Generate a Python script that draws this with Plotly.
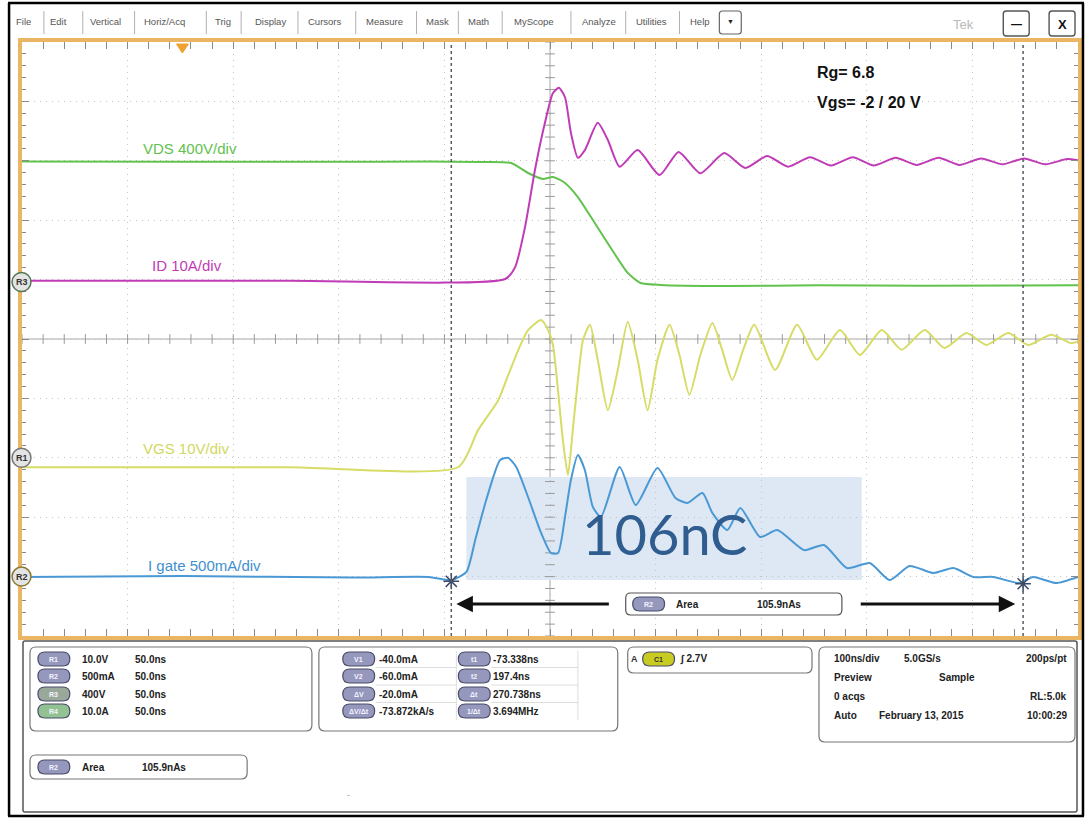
import plotly.graph_objects as go
import numpy as np

# ---------------- data ----------------
# time axis: 50 ns/div, 10 divisions
T_LEFT, T_RIGHT = -276.6, 223.4
T_CENTER = -26.6
NS_PER_DIV = 50

# VDS (V), 400 V/div
t_vds = [-276.6, -200, -130, -84.1, -60, -45.0, -37.0, -30.0, -25.2, -19.5, -13.4,
         -5.4, 2.2, 10.2, 16.3, 25.8, 57.4, 100, 150, 223.4]
vds = [812, 810, 809, 811, 808, 801, 734, 694, 707, 667, 572,
       397, 229, 61, -7, -20, -27, -22, -25, -22]

# ID (A), 10 A/div
t_id = [-276.6, -150, -47.8, -43.1, -38.4, -33.7, -29.0, -25.2, -22.4, -19.5, -16.7,
        -13.4, -10.1, -4.0, 0.8, 6.4, 14.9, 25.3, 34.3, 44.6, 55.9, 65.9, 76.2,
        86.1, 96.5, 106.4, 116.8, 126.7, 137.1, 147.0, 157.4, 167.3, 177.6, 187.6,
        197.9, 207.8, 218.2, 223.4]
i_d = [0.2, 0.2, 0.5, 2.5, 9.3, 18.9, 26.8, 31.8, 32.7, 31.1, 25.1,
       20.9, 22.2, 26.8, 23.9, 19.4, 22.2, 18.0, 21.9, 18.3, 21.7, 19.2, 21.2,
       19.4, 21.0, 19.6, 21.0, 19.6, 20.9, 19.7, 20.9, 19.7, 20.8, 19.8,
       20.8, 19.8, 20.7, 20.5]

# VGS (V), 10 V/div
t_vgs = [-276.6, -150, -70.0, -60.6, -51.1, -46.4, -41.7, -37.0, -30.8, -27.5, -25.2,
         -20.5, -18.1, -15.8, -13.4, -11.0, -7.7, -4.0, 0.8, 5.5, 10.2, 14.9, 19.6,
         24.3, 30.0, 34.7, 39.4, 44.6, 50.3, 54.9, 59.7, 64.9, 70.1, 80.0, 90.4,
         99.8, 110.7, 120.1, 130.5, 139.9, 150.8, 160.2, 170.6, 180.0, 190.4,
         199.8, 210.7, 220.1, 223.4]
vgs = [-1.6, -1.6, -1.55, 4.7, 9.7, 13.9, 18.1, 21.5, 23.2, 21.5, 19.0,
       3.0, -2.9, 4.7, 13.1, 19.8, 22.4, 16.5, 8.0, 14.8, 22.9, 16.5, 8.0,
       16.5, 22.4, 17.3, 10.6, 17.3, 22.7, 18.2, 13.1, 18.2, 22.4, 14.8, 22.4,
       16.5, 21.5, 17.3, 21.5, 18.2, 21.5, 18.5, 21.0, 19.0, 21.0,
       19.0, 20.7, 19.3, 19.6]

# I gate (mA), 500 mA/div
t_ig = [-276.6, -200, -120, -84.1, -73.3, -66.2, -62.0, -56.8, -50.2, -46.4, -42.6,
        -37.0, -30.8, -26.1, -22.8, -19.5, -16.7, -13.4, -10.1, -6.3, -2.5, 6.4,
        14.0, 24.3, 32.8, 38.5, 45.6, 50.3, 57.4, 63.5, 72.9, 81.0, 93.7, 103.1,
        114.0, 124.8, 134.2, 143.7, 155.0, 164.4, 173.9, 183.3, 195.6, 202.2,
        213.0, 223.4]
igate = [-3, 5, -8, -3, -30, 39, 308, 645, 982, 999, 923,
         670, 367, 198, 198, 502, 813, 1023, 897, 586, 502, 923,
         603, 914, 662, 620, 704, 535, 392, 577, 333, 392, 223, 266,
         72, 114, -29, 89, 30, 72, -3, -3, -54, -3,
         -54, -3]

# cursors
t1, t2 = -73.338, 197.4
v1, v2 = -40.0, -60.0

# channel scales (per div) and ground positions (in divisions from centre)
SC_VDS, GND_VDS = 400, 0.96
SC_ID, GND_ID = 10, 0.96
SC_VGS, GND_VGS = 10, -2.0
SC_IG, GND_IG = 500, -4.0

# ---------------- layout helpers ----------------
W, H = 1091, 818
L, R, T, B = 22, 1082, 42, 636


def px(x):
    return (x - L) / (R - L)


def py(y):
    return (B - y) / (B - T)


def rng(scale, gnd):
    return [(-5 - gnd) * scale, (5 - gnd) * scale]


shapes = []
annots = []


def rrect(x0, y0, x1, y1, r, line_color, fill, width=1):
    p = (f"M {px(x0 + r)},{py(y0)} L {px(x1 - r)},{py(y0)} Q {px(x1)},{py(y0)} {px(x1)},{py(y0 + r)} "
         f"L {px(x1)},{py(y1 - r)} Q {px(x1)},{py(y1)} {px(x1 - r)},{py(y1)} "
         f"L {px(x0 + r)},{py(y1)} Q {px(x0)},{py(y1)} {px(x0)},{py(y1 - r)} "
         f"L {px(x0)},{py(y0 + r)} Q {px(x0)},{py(y0)} {px(x0 + r)},{py(y0)} Z")
    shapes.append(dict(type='path', path=p, xref='paper', yref='paper',
                       line=dict(color=line_color, width=width), fillcolor=fill, layer='above'))


def line(x0, y0, x1, y1, color, width=1, dash='solid'):
    shapes.append(dict(type='line', xref='paper', yref='paper', x0=px(x0), y0=py(y0),
                       x1=px(x1), y1=py(y1), line=dict(color=color, width=width, dash=dash),
                       layer='above'))


def text(x, y, s, size=10, color='#222', anchor='left', bold=False, family='Liberation Sans'):
    if bold:
        s = f"<b>{s}</b>"
    annots.append(dict(x=px(x), y=py(y), xref='paper', yref='paper', text=s, showarrow=False,
                       xanchor=anchor, yanchor='middle',
                       font=dict(size=size, color=color, family=family)))


def pill(cx, cy, label, fill='#9597bd', tcolor='#f4f4ff', w=32, h=14):
    rrect(cx - w / 2, cy - h / 2, cx + w / 2, cy + h / 2, h / 2, '#4a4c6a', fill, 1.2)
    text(cx, cy, label, size=7, color=tcolor, anchor='center', bold=True)


fig = go.Figure()

# ---------------- traces ----------------
common = dict(mode='lines', line_shape='spline', hoverinfo='skip', showlegend=False)
fig.add_trace(go.Scatter(x=t_vds, y=vds, yaxis='y2', line=dict(color='#62c24e', width=2, smoothing=0.6), **common))
fig.add_trace(go.Scatter(x=t_id, y=i_d, yaxis='y3', line=dict(color='#c03cb6', width=2, smoothing=0.6), **common))
fig.add_trace(go.Scatter(x=t_vgs, y=vgs, yaxis='y4', line=dict(color='#d6dc66', width=2, smoothing=0.6), **common))
fig.add_trace(go.Scatter(x=t_ig, y=igate, yaxis='y5', line=dict(color='#4a98d4', width=2, smoothing=0.6), **common))

# centre graticule ticks (decoration)
minor_t = np.arange(T_LEFT, T_RIGHT + 0.01, NS_PER_DIV / 5)
minor_d = np.arange(-5, 5.01, 0.2)
fig.add_trace(go.Scatter(x=minor_t, y=np.zeros_like(minor_t), mode='markers', hoverinfo='skip',
                         showlegend=False,
                         marker=dict(symbol='line-ns', size=7, line=dict(color='#9a9a9a', width=1))))
fig.add_trace(go.Scatter(x=np.full_like(minor_d, T_CENTER), y=minor_d, mode='markers', hoverinfo='skip',
                         showlegend=False,
                         marker=dict(symbol='line-ew', size=7, line=dict(color='#9a9a9a', width=1))))

# cursor markers on I gate
fig.add_trace(go.Scatter(x=[t1, t2], y=[v1, v2], yaxis='y5', mode='markers', hoverinfo='skip',
                         showlegend=False,
                         marker=dict(symbol='asterisk-open', size=13, color='#3c4a66',
                                     line=dict(color='#3c4a66', width=1.5))))

# ---------------- plot-area shapes ----------------
# shaded integration region
shapes.append(dict(type='rect', xref='x', yref='y5', x0=-66.2, x1=121.0, y0=-29, y1=838,
                   fillcolor='#dde8f4', line=dict(width=0), layer='below'))
# centre lines
shapes.append(dict(type='line', xref='x', yref='paper', x0=T_CENTER, x1=T_CENTER, y0=0, y1=1,
                   line=dict(color='#a8a8a8', width=1), layer='below'))
shapes.append(dict(type='line', xref='paper', yref='y', x0=0, x1=1, y0=0, y1=0,
                   line=dict(color='#a8a8a8', width=1), layer='below'))
# cursors
for tc in (t1, t2):
    shapes.append(dict(type='line', xref='x', yref='paper', x0=tc, x1=tc, y0=0, y1=1,
                       line=dict(color='#555a66', width=1.5, dash='dot'), layer='above'))

# trigger marker
shapes.append(dict(type='path', xref='paper', yref='paper',
                   path=f"M {px(177)},{py(44)} L {px(189)},{py(44)} L {px(183)},{py(53)} Z",
                   fillcolor='#f0a030', line=dict(color='#f0a030', width=1), layer='above'))

# reference markers on left border
for gnd, lab, ring in ((GND_VDS, 'R3', '#557755'), (GND_VGS, 'R1', '#777777'), (GND_IG, 'R2', '#8a7a30')):
    yy = 339 - gnd * 59.4
    shapes.append(dict(type='circle', xref='paper', yref='paper',
                       x0=px(12), x1=px(31), y0=py(yy - 9.5), y1=py(yy + 9.5),
                       fillcolor='#e4e4e4', line=dict(color=ring, width=1.5), layer='above'))
    text(21.5, yy, lab, size=9, color='#333', anchor='center', bold=True)

# plot labels
text(191, 148, 'VDS 400V/div', 15, '#62c24e', 'center')
text(188, 265, 'ID 10A/div', 15, '#c03cb6', 'center')
text(187, 448, 'VGS 10V/div', 15, '#d2d860', 'center')
text(205, 565, 'I gate 500mA/div', 15, '#3f8fd0', 'center')
text(818, 72, 'Rg= 6.8', 16, '#111', 'left', bold=True)
text(818, 102, 'Vgs= -2 / 20 V', 16, '#111', 'left', bold=True)
text(667, 533, '106nC', 56, '#2f5d90', 'center', family='Lato')

# area arrows + readout box
annots.append(dict(x=px(458), y=py(604), xref='paper', yref='paper', ax=154, ay=0, text='',
                   showarrow=True, arrowhead=2, arrowsize=1.1, arrowwidth=3, arrowcolor='#111'))
annots.append(dict(x=px(1019), y=py(604), xref='paper', yref='paper', ax=-156, ay=0, text='',
                   showarrow=True, arrowhead=2, arrowsize=1.1, arrowwidth=3, arrowcolor='#111'))
rrect(628, 593, 845, 615, 5, '#555', '#ffffff', 1.2)
pill(651, 604, 'R2')
text(676, 604, 'Area', 10, '#222', bold=True)
text(758, 604, '105.9nAs', 10, '#222', bold=True)

# ---------------- menu bar ----------------
line(8, 3, 1088, 3, '#000', 2.5)
line(9, 3, 9, 816, '#000', 2.5)
line(1087, 3, 1087, 816, '#000', 2.5)
line(8, 816, 1088, 816, '#000', 2.5)
menu = [('File', 24), ('Edit', 59), ('Vertical', 106), ('Horiz/Acq', 165), ('Trig', 224),
        ('Display', 271), ('Cursors', 326), ('Measure', 386), ('Mask', 439), ('Math', 480),
        ('MyScope', 536), ('Analyze', 601), ('Utilities', 654), ('Help', 703)]
for s, xc in menu:
    text(xc, 22, s, 9.5, '#555', 'center')
for xs in (44, 83, 135, 207, 242, 299, 357, 418, 460, 504, 573, 628, 682):
    line(xs, 11, xs, 34, '#b0b0b0', 1)
rrect(722, 11, 744, 34, 3, '#666', '#ffffff', 1.2)
text(733, 22, '▼', 7, '#222', 'center')
text(967, 24, 'Tek', 13, '#b8b8b8', 'center')
rrect(1007, 11, 1033, 36, 3, '#555', '#ffffff', 1.4)
text(1020, 24, '<b>—</b>', 11, '#111', 'center')
rrect(1053, 11, 1079, 36, 3, '#555', '#ffffff', 1.4)
text(1066, 24, 'X', 13, '#111', 'center', bold=True)

# ---------------- bottom readout panel ----------------
rrect(23, 641, 1081, 812, 2, '#555', '#ffffff', 1.5)
rrect(30, 647, 313, 731, 6, '#777', '#ffffff', 1.2)
rrect(320, 647, 620, 731, 6, '#777', '#ffffff', 1.2)
rrect(630, 647, 815, 673, 6, '#777', '#ffffff', 1.2)
rrect(822, 647, 1079, 742, 6, '#777', '#ffffff', 1.2)
rrect(30, 755, 248, 779, 6, '#777', '#ffffff', 1.2)

rows = [659, 676, 694, 711]
ref_rows = [('R1', '10.0V', '#9597bd'), ('R2', '500mA', '#9597bd'),
            ('R3', '400V', '#9aa89a'), ('R4', '10.0A', '#92c292')]
for (lab, val, col), yy in zip(ref_rows, rows):
    pill(54, yy, lab, fill=col)
    text(80, yy, val, 10, '#222', bold=True)
    text(133, yy, '50.0ns', 10, '#222', bold=True)

cur_left = [('V1', '-40.0mA'), ('V2', '-60.0mA'), ('ΔV', '-20.0mA'), ('ΔV/Δt', '-73.872kA/s')]
cur_right = [('t1', '-73.338ns'), ('t2', '197.4ns'), ('Δt', '270.738ns'), ('1/Δt', '3.694MHz')]
for (a, va), (b, vb), yy in zip(cur_left, cur_right, rows):
    pill(360, yy, a)
    text(378, yy, va, 10, '#222', bold=True)
    pill(476, yy, b)
    text(493, yy, vb, 10, '#222', bold=True)
for yy in (667.5, 685, 702.5):
    line(377, yy, 458, yy, '#dddddd', 1)
    line(493, yy, 580, yy, '#dddddd', 1)
line(458, 651, 458, 720, '#dddddd', 1)
line(580, 651, 580, 720, '#dddddd', 1)

text(637, 659, 'A', 9, '#333', 'center', bold=True)
pill(661, 659, 'C1', fill='#c8cc22', tcolor='#333')
text(680, 659, '∫ 2.7V', 10, '#222', bold=True)

text(835, 658, '100ns/div', 10, '#222', bold=True)
text(905, 658, '5.0GS/s', 10, '#222', bold=True)
text(1073, 658, '200ps/pt', 10, '#222', 'right', bold=True)
text(835, 677, 'Preview', 10, '#222', bold=True)
text(940, 677, 'Sample', 10, '#222', bold=True)
text(835, 696, '0 acqs', 10, '#222', bold=True)
text(1073, 696, 'RL:5.0k', 10, '#222', 'right', bold=True)
text(835, 715, 'Auto', 10, '#222', bold=True)
text(880, 715, 'February 13, 2015', 10, '#222', bold=True)
text(1073, 715, '10:00:29', 10, '#222', 'right', bold=True)

pill(54, 767, 'R2')
text(80, 767, 'Area', 10, '#222', bold=True)
text(140, 767, '105.9nAs', 10, '#222', bold=True)
text(350, 795, '-', 9, '#999', 'center')

# ---------------- axes ----------------
grid_col = '#c4c4c4'
border = '#ebb664'
fig.update_layout(
    width=W, height=H,
    margin=dict(l=L, r=W - R, t=T, b=H - B, pad=0),
    paper_bgcolor='white', plot_bgcolor='white',
    showlegend=False,
    xaxis=dict(range=[T_LEFT, T_RIGHT], tick0=T_LEFT, dtick=NS_PER_DIV, showgrid=True,
               gridcolor=grid_col, griddash='1px,5px', gridwidth=1,
               ticks='inside', ticklen=7, tickcolor='#8a8a8a', tickwidth=1,
               minor=dict(ticks='inside', ticklen=4, tick0=T_LEFT, dtick=NS_PER_DIV / 5,
                          tickcolor='#8a8a8a', showgrid=False),
               showline=True, linecolor=border, linewidth=4, mirror='allticks',
               showticklabels=False, zeroline=False, fixedrange=True),
    yaxis=dict(range=[-5, 5], tick0=0, dtick=1, showgrid=True,
               gridcolor=grid_col, griddash='1px,5px', gridwidth=1,
               ticks='inside', ticklen=7, tickcolor='#8a8a8a', tickwidth=1,
               minor=dict(ticks='inside', ticklen=4, tick0=0, dtick=0.2,
                          tickcolor='#8a8a8a', showgrid=False),
               showline=True, linecolor=border, linewidth=4, mirror='allticks',
               showticklabels=False, zeroline=False, fixedrange=True),
    yaxis2=dict(range=rng(SC_VDS, GND_VDS), overlaying='y', visible=False, fixedrange=True),
    yaxis3=dict(range=rng(SC_ID, GND_ID), overlaying='y', visible=False, fixedrange=True),
    yaxis4=dict(range=rng(SC_VGS, GND_VGS), overlaying='y', visible=False, fixedrange=True),
    yaxis5=dict(range=rng(SC_IG, GND_IG), overlaying='y', visible=False, fixedrange=True),
    shapes=shapes,
    annotations=annots,
)

fig.write_html("out.html")
